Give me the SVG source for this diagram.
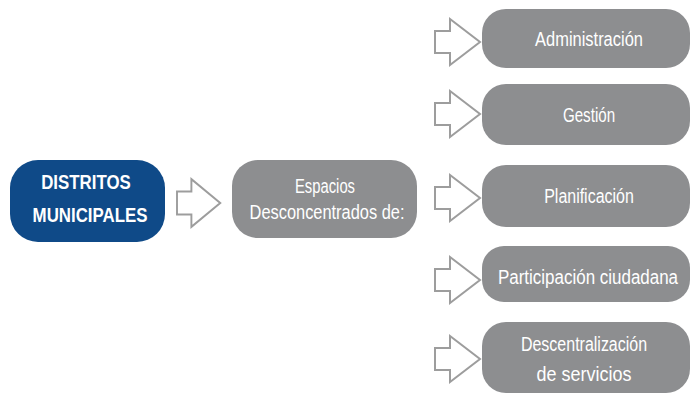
<svg xmlns="http://www.w3.org/2000/svg" width="692" height="395" viewBox="0 0 692 395">
<style>
.blue{fill:#0f4a88}
.gray{fill:#8d8e90}
.arr{fill:#ffffff;stroke:#9d9d9d;stroke-width:2;stroke-linejoin:miter}
.t{font-family:"Liberation Sans",Arial,sans-serif;font-size:19.5px;fill:#ffffff;text-anchor:middle}
.tb{font-family:"Liberation Sans",Arial,sans-serif;font-size:21px;font-weight:bold;fill:#ffffff;text-anchor:middle}
</style>
<defs>
<path id="arrow" d="M0,-11 H15 V-23 L45,0 L15,23 V11 H0 Z"/>
</defs>
<rect width="692" height="395" fill="#ffffff"/>
<g id="connectors">
<use href="#arrow" class="arr" transform="translate(177,203) scale(0.96,1.04)"/>
<use href="#arrow" class="arr" transform="translate(435,42)"/>
<use href="#arrow" class="arr" transform="translate(435,114)"/>
<use href="#arrow" class="arr" transform="translate(435,198)"/>
<use href="#arrow" class="arr" transform="translate(435,280)"/>
<use href="#arrow" class="arr" transform="translate(435,359)"/>
</g>
<g id="distritos">
<rect class="blue" x="10" y="160" width="155" height="82" rx="28"/>
<text class="tb" transform="translate(86,189) scale(0.87,1)" textLength="103" lengthAdjust="spacingAndGlyphs">DISTRITOS</text>
<text class="tb" transform="translate(90,222) scale(0.87,1)" textLength="132" lengthAdjust="spacingAndGlyphs">MUNICIPALES</text>
</g>
<g id="espacios">
<rect class="gray" x="232" y="160" width="185" height="78" rx="26"/>
<text class="t" transform="translate(325,193) scale(0.87,1)" textLength="69" lengthAdjust="spacingAndGlyphs">Espacios</text>
<text class="t" transform="translate(327,219) scale(0.87,1)" textLength="178" lengthAdjust="spacingAndGlyphs">Desconcentrados de:</text>
</g>
<g id="administracion">
<rect class="gray" x="482" y="9" width="208" height="59" rx="24"/>
<text class="t" transform="translate(589,46) scale(0.87,1)" textLength="124" lengthAdjust="spacingAndGlyphs">Administración</text>
</g>
<g id="gestion">
<rect class="gray" x="482" y="84" width="208" height="61" rx="24"/>
<text class="t" transform="translate(589,122) scale(0.87,1)" textLength="60" lengthAdjust="spacingAndGlyphs">Gestión</text>
</g>
<g id="planificacion">
<rect class="gray" x="482" y="165" width="208" height="62" rx="24"/>
<text class="t" transform="translate(589,203) scale(0.87,1)" textLength="103" lengthAdjust="spacingAndGlyphs">Planificación</text>
</g>
<g id="participacion">
<rect class="gray" x="482" y="246" width="208" height="56" rx="22"/>
<text class="t" transform="translate(588,284) scale(0.87,1)" textLength="207" lengthAdjust="spacingAndGlyphs">Participación ciudadana</text>
</g>
<g id="descentralizacion">
<rect class="gray" x="482" y="322" width="208" height="71" rx="24"/>
<text class="t" transform="translate(584,351) scale(0.87,1)" textLength="145" lengthAdjust="spacingAndGlyphs">Descentralización</text>
<text class="t" transform="translate(584,381) scale(0.87,1)" textLength="109" lengthAdjust="spacingAndGlyphs">de servicios</text>
</g>
</svg>
